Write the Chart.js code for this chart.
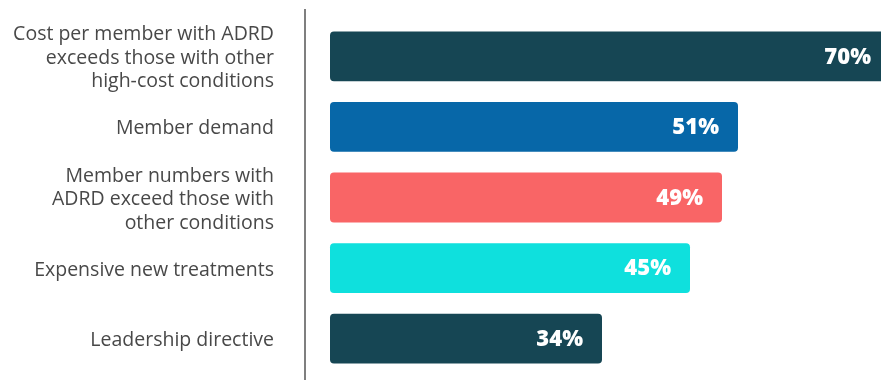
<!DOCTYPE html>
<html>
<head>
<meta charset="utf-8">
<script src="https://cdn.jsdelivr.net/npm/chart.js@4/dist/chart.umd.min.js"></script>
<style>
  html, body { margin: 0; padding: 0; background: #fff; }
  #wrap { width: 881px; height: 380px; position: relative; }
</style>
</head>
<body>
<div id="wrap"><canvas id="chart"></canvas></div>
<script>
// ====== Data ======
const categories = [
  ["Cost per member with ADRD", "exceeds those with other", "high-cost conditions"],
  "Member demand",
  ["Member numbers with", "ADRD exceed those with", "other conditions"],
  "Expensive new treatments",
  "Leadership directive"
];
const values = [70, 51, 49, 45, 34];
const barColors = ["#164654", "#0767a8", "#f96566", "#0fe0dd", "#164654"];

// Vertical divider line left of the bars
const dividerLine = {
  id: "dividerLine",
  afterDraw(chart) {
    const ctx = chart.ctx;
    const x = chart.chartArea.left;
    ctx.save();
    ctx.strokeStyle = "#555";
    ctx.lineWidth = 1.5;
    ctx.beginPath();
    ctx.moveTo(x, 9);
    ctx.lineTo(x, 380);
    ctx.stroke();
    ctx.restore();
  }
};

// White percentage labels at the bar ends
const valueLabels = {
  id: "valueLabels",
  afterDatasetsDraw(chart) {
    const ctx = chart.ctx;
    const meta = chart.getDatasetMeta(0);
    ctx.save();
    ctx.fillStyle = "#fff";
    ctx.font = "800 22px 'Open Sans', sans-serif";
    ctx.textAlign = "right";
    ctx.textBaseline = "middle";
    meta.data.forEach((bar, i) => {
      ctx.fillText(values[i] + "%", bar.x - 19, bar.y + 1);
    });
    ctx.restore();
  }
};

new Chart(document.getElementById("chart"), {
  type: "bar",
  data: {
    labels: categories,
    datasets: [{
      data: values,
      backgroundColor: barColors,
      borderRadius: 4,
      borderSkipped: false,
      categoryPercentage: 1,
      barPercentage: 0.705
    }]
  },
  options: {
    indexAxis: "y",
    responsive: true,
    maintainAspectRatio: false,
    animation: false,
    layout: { padding: { top: 21, bottom: 6, left: 0, right: 0 } },
    plugins: { legend: { display: false }, tooltip: { enabled: false } },
    scales: {
      x: {
        display: false,
        min: -3.125,
        max: 68.875
      },
      y: {
        grid: { display: false, drawTicks: false },
        border: { display: false },
        afterFit(scale) {
          scale.width = 305;
          scale.paddingTop = 0;
          scale.paddingBottom = 0;
        },
        ticks: {
          autoSkip: false,
          color: "#484848",
          padding: 31,
          labelOffset: 2,
          font: { family: "'Open Sans', sans-serif", size: 19.5, lineHeight: 1.205 }
        }
      }
    }
  },
  plugins: [dividerLine, valueLabels]
});
</script>
</body>
</html>
